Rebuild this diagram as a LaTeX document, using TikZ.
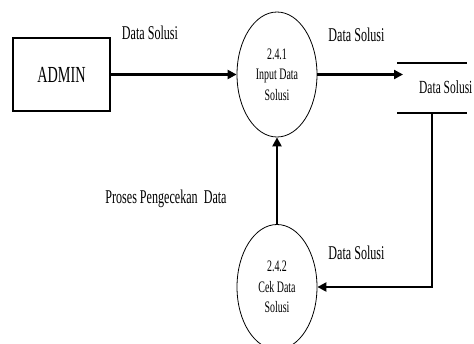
\documentclass[tikz,border=0pt]{standalone}
\usepackage{fontspec}
\setmainfont{Liberation Serif}[FakeStretch=0.62]
\usetikzlibrary{shapes.geometric,arrows.meta}

\tikzset{
    proses/.style={draw, ellipse, line width=0.8pt, minimum width=80pt, minimum height=125pt,
        inner sep=0pt, align=center, font=\fontsize{16}{20.5}\selectfont},
    entitas/.style={draw, rectangle, line width=1.3pt, minimum width=97pt, minimum height=73pt,
        font=\fontsize{23}{25}\selectfont},
    label/.style={anchor=base, font=\fontsize{19.5}{21}\selectfont},
    alir/.style={line width=2.2pt, -{Triangle[length=9pt,width=9pt]}},
}

\begin{document}
\begin{tikzpicture}[x=1pt, y=-1pt]
        \useasboundingbox (0,0) rectangle (474,343);
        \clip (0,0) rectangle (474,343);

        % Entitas dan proses
        \node[entitas] (admin) at (61.5,74.5) {ADMIN};
        \node[proses] (input) at (277,74.5) {2.4.1\\Input Data\\Solusi};
        \node[proses] (cek) at (277,287) {2.4.2\\Cek Data\\Solusi};

        % Data store
        \draw[line width=1.1pt] (397,63) -- (467,63);
        \draw[line width=1.1pt] (397,113) -- (467,113);
        \node[label, anchor=base west, inner sep=0pt, font=\fontsize{18.5}{20}\selectfont] (store) at (419,93) {Data Solusi};
        \coordinate (storein) at (403,74.5);
        \coordinate (storeout) at (432,113);

        % Aliran data
        \draw[alir] (admin.east) -- (input.west);
        \draw[alir] (input.east) -- (storein);
        \draw[alir] (storeout) |- (cek.east);
        \draw[alir] (cek.north) -- (input.south);

        % Label aliran
        \node[label] (lblA) at (150,39) {Data Solusi};
        \node[label] (lblB) at (356.5,41) {Data Solusi};
        \node[label] (lblC) at (166,203) {Proses Pengecekan\ \ Data};
        \node[label] (lblD) at (356.5,259) {Data Solusi};
    \end{tikzpicture}
\end{document}
